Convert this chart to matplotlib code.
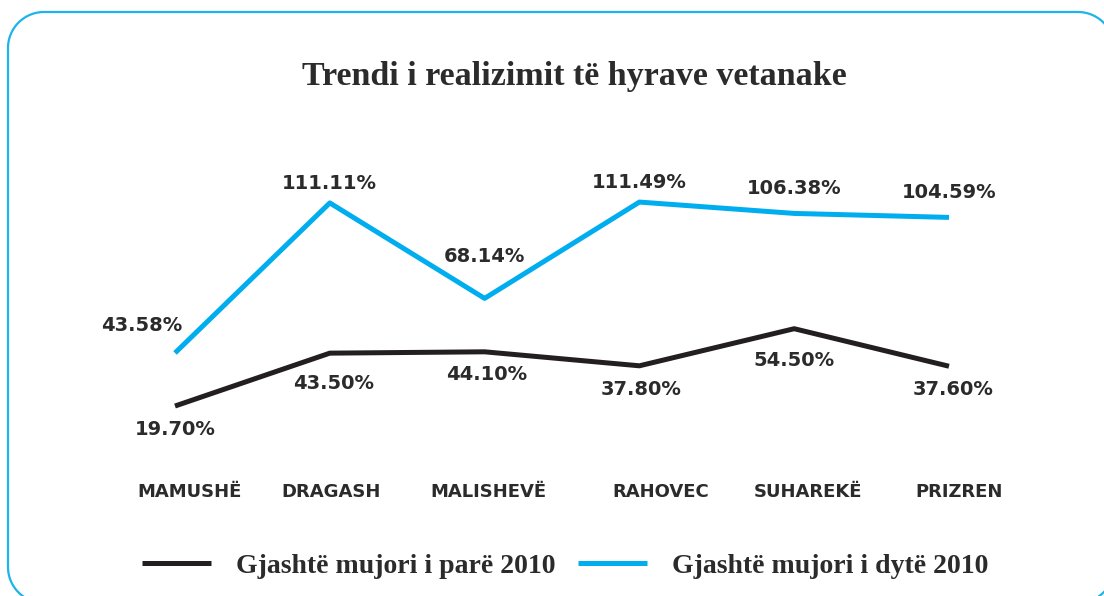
#! /usr/bin/env python3
"""Trendi i realizimit te hyrave vetanake - line chart"""

import numpy as np
import matplotlib
matplotlib.use("Agg")
from matplotlib import pyplot as plt
from matplotlib.path import Path
from matplotlib.patches import PathPatch

municipalities = ["MAMUSHË", "DRAGASH", "MALISHEVË", "RAHOVEC", "SUHAREKË", "PRIZREN"]
first_half = [19.70, 43.50, 44.10, 37.80, 54.50, 37.60]
second_half = [43.58, 111.11, 68.14, 111.49, 106.38, 104.59]
first_labels = ["19.70%", "43.50%", "44.10%", "37.80%", "54.50%", "37.60%"]
second_labels = ["43.58%", "111.11%", "68.14%", "111.49%", "106.38%", "104.59%"]
legend_names = ["Gjashtë mujori i parë 2010", "Gjashtë mujori i dytë 2010"]
title = "Trendi i realizimit të hyrave vetanake"

BLACK = "#231f20"
CYAN = "#00aeef"
TXT = "#2b2b2b"
SANS = ["DejaVu Sans"]
SERIF = ["Liberation Serif", "DejaVu Serif"]

# label offsets in pixels (dx, dy downwards)
first_off = [(0, 23), (4, 30), (2, 23), (2, 24), (0, 32), (4, 23)]
second_off = [(-33, -27), (0, -19), (0, -42), (0, -20), (0, -25), (0, -25)]
cat_dx = [15, 1, 4, 21, 14, 10]

W, H = 1104, 596
fig = plt.figure(figsize=(W / 100, H / 100), dpi=100)


def rounded_frame(x0, y0, x1, y1, r):
    """closed rounded rectangle path, pixel coords with y up"""
    pts = []
    corners = [(x1 - r, y1 - r, 0, 90), (x0 + r, y1 - r, 90, 180),
               (x0 + r, y0 + r, 180, 270), (x1 - r, y0 + r, 270, 360)]
    for cx, cy, a0, a1 in corners:
        t = np.radians(np.linspace(a0, a1, 30))
        pts += list(zip(cx + r * np.cos(t), cy + r * np.sin(t)))
    pts.append(pts[0])
    return Path(pts, closed=True)


# background axes in pixel coords (y up) for the rounded frame
bg = fig.add_axes([0, 0, 1, 1])
bg.set_xlim(0, W)
bg.set_ylim(0, H)
bg.axis("off")
bg.add_patch(PathPatch(rounded_frame(8, H - 603, 1114, H - 12, 36),
                       fc="none", ec="#1cb4ea", lw=1.6, clip_on=False))

ax = fig.add_axes([0, 0, 1, 1])
ax.patch.set_visible(False)
xs = list(range(len(municipalities)))
ax.set_xlim(-175 / 154.8, (W - 175) / 154.8)
ax.set_ylim((449.8 - H) / 2.222, 449.8 / 2.222)
ax.axis("off")

ax.plot(xs, first_half, color=BLACK, lw=3.6, solid_capstyle="butt",
        label=legend_names[0])
ax.plot(xs, second_half, color=CYAN, lw=3.6, solid_capstyle="butt",
        label=legend_names[1])

for x, v, lab, (dx, dy) in zip(xs, first_half, first_labels, first_off):
    ax.annotate(lab, (x, v), xytext=(dx, -dy), textcoords="offset pixels",
                ha="center", va="center", fontsize=14, fontweight="bold",
                family=SANS, color=TXT)
for x, v, lab, (dx, dy) in zip(xs, second_half, second_labels, second_off):
    ax.annotate(lab, (x, v), xytext=(dx, -dy), textcoords="offset pixels",
                ha="center", va="center", fontsize=14, fontweight="bold",
                family=SANS, color=TXT)

for x, name, dx in zip(xs, municipalities, cat_dx):
    ax.annotate(name, (x, 0), xytext=(dx, -(492 - 449.8)),
                textcoords="offset pixels", ha="center", va="center",
                fontsize=13, fontweight="bold", family=SANS, color=TXT)

fig.text(574 / W, 1 - 76 / H, title, ha="center", va="center",
         fontsize=24.5, fontweight="bold", family=SERIF, color=TXT)

leg = fig.legend(loc="center", bbox_to_anchor=(565 / W, 1 - 566 / H), ncol=2,
                 frameon=False, handlelength=2.5, handletextpad=0.9,
                 columnspacing=0.8,
                 prop={"family": SERIF, "weight": "bold", "size": 20})
for t in leg.get_texts():
    t.set_color(TXT)

fig.savefig("out.png", dpi=100)
